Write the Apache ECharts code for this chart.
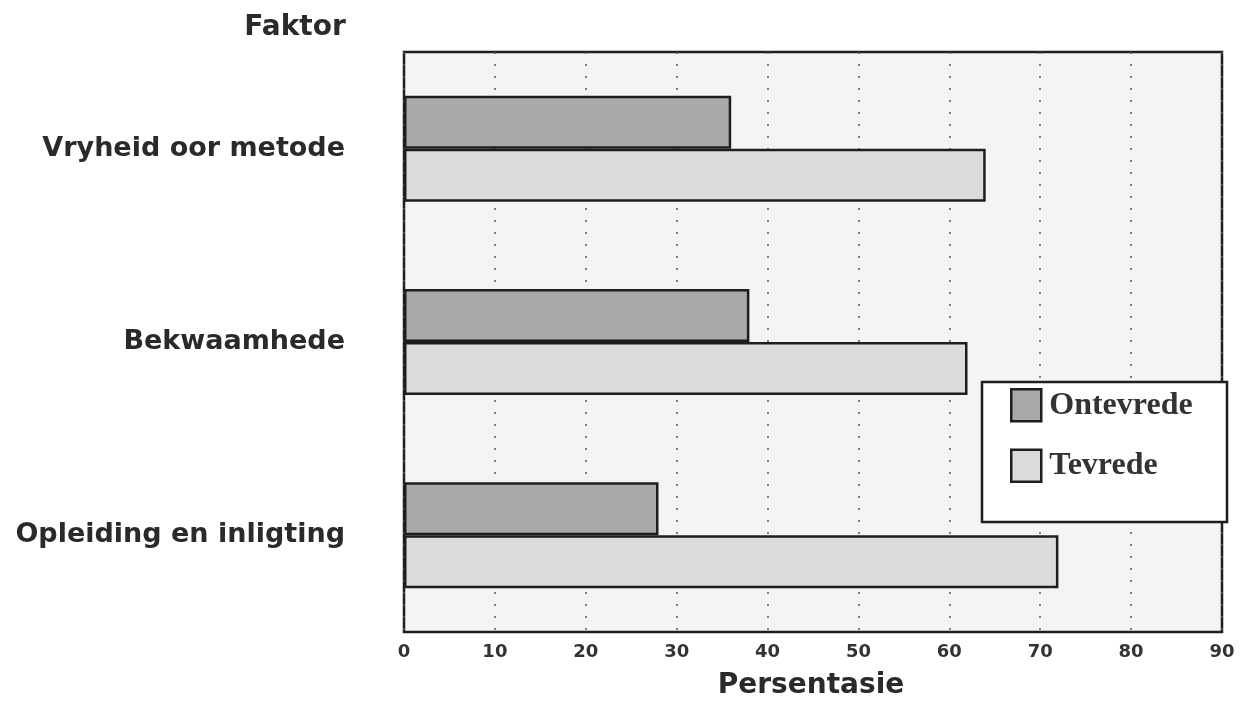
<!DOCTYPE html>
<html>
<head>
<meta charset="utf-8">
<style>
  html, body { margin: 0; padding: 0; background: #ffffff; }
  #chart { width: 1244px; height: 720px; }
</style>
<script src="https://cdn.jsdelivr.net/npm/echarts@6/dist/echarts.min.js"></script>
</head>
<body>
<div id="chart"></div>
<script>
// Factors (top to bottom) and percentage of respondents per response
const categories = ['Vryheid oor metode', 'Bekwaamhede', 'Opleiding en inligting'];
const ontevrede = [36, 38, 28];
const tevrede = [64, 62, 72];
const seriesNames = ['Ontevrede', 'Tevrede'];
const xTicks = [0, 10, 20, 30, 40, 50, 60, 70, 80, 90];

const sansBold = { fontFamily: 'DejaVu Sans', fontWeight: 'bold', color: '#2a2a2a' };
const outline = '#1e1e1e';

const chart = echarts.init(document.getElementById('chart'), null, { renderer: 'canvas' });

chart.setOption({
  animation: false,
  backgroundColor: '#ffffff',
  grid: {
    left: 404, right: 22, top: 52, bottom: 88,
    show: true,
    backgroundColor: '#f4f4f4',
    borderColor: outline,
    borderWidth: 2.5
  },
  xAxis: {
    type: 'value',
    min: xTicks[0],
    max: xTicks[xTicks.length - 1],
    interval: 10,
    axisLine: { show: false },
    axisTick: { show: false },
    splitLine: {
      show: true,
      lineStyle: { color: '#5a5a5a', width: 1.5, type: [2, 10] }
    },
    axisLabel: {
      margin: 11,
      fontSize: 18,
      ...sansBold,
      color: '#333333'
    }
  },
  yAxis: {
    type: 'category',
    data: categories,
    inverse: true,
    axisLine: { show: false },
    axisTick: { show: false },
    splitLine: { show: false },
    axisLabel: {
      margin: 59,
      fontSize: 27,
      ...sansBold
    }
  },
  legend: {
    data: seriesNames,
    orient: 'vertical',
    left: 1010,
    top: 388,
    padding: 0,
    itemWidth: 30,
    itemHeight: 32,
    itemGap: 26,
    icon: 'rect',
    z: 5,
    itemStyle: { borderColor: outline, borderWidth: 2.5 },
    textStyle: {
      fontFamily: 'Liberation Serif',
      fontWeight: 'bold',
      fontSize: 32,
      color: '#333333',
      padding: [0, 0, 0, 3]
    }
  },
  graphic: [
    {
      type: 'rect',
      z: 3,
      shape: { x: 982, y: 382, width: 245, height: 140 },
      style: { fill: '#ffffff', stroke: outline, lineWidth: 2.5 }
    },
    {
      type: 'text',
      z: 5,
      style: {
        text: 'Faktor',
        x: 295, y: 28,
        align: 'center', verticalAlign: 'middle',
        font: 'bold 28px "DejaVu Sans"',
        fill: '#2a2a2a'
      }
    },
    {
      type: 'text',
      z: 5,
      style: {
        text: 'Persentasie',
        x: 811, y: 686,
        align: 'center', verticalAlign: 'middle',
        font: 'bold 28px "DejaVu Sans"',
        fill: '#2a2a2a'
      }
    }
  ],
  series: [
    {
      name: seriesNames[0],
      type: 'bar',
      data: ontevrede,
      barWidth: 53,
      barGap: '0%',
      itemStyle: { color: '#a9a9a9', borderColor: outline, borderWidth: 2.5 }
    },
    {
      name: seriesNames[1],
      type: 'bar',
      data: tevrede,
      barWidth: 53,
      barGap: '0%',
      itemStyle: { color: '#dcdcdc', borderColor: outline, borderWidth: 2.5 }
    }
  ]
});
</script>
</body>
</html>
